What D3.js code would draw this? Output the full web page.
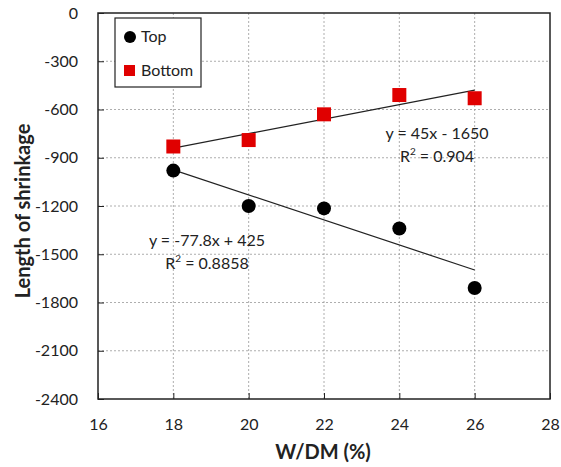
<!doctype html>
<html>
<head>
<meta charset="utf-8">
<script src="https://d3js.org/d3.v7.min.js"></script>
<style>
  body { margin:0; background:#fff; }
  text { font-family: Lato, "Open Sans", sans-serif; fill:#222; }
</style>
</head>
<body>
<svg id="chart" width="561" height="467"></svg>
<script>
// data
var wdm = [18, 20, 22, 24, 26];
var topVals = [-980, -1200, -1215, -1340, -1710];
var bottomVals = [-830, -790, -630, -510, -530];
var xTicks = [16, 18, 20, 22, 24, 26, 28];
var yTicks = [0, -300, -600, -900, -1200, -1500, -1800, -2100, -2400];
// trendlines as printed on the chart
var topFit = {a: -77.8, b: 425, eq: "y = -77.8x + 425", r2: "0.8858"};
var bottomFit = {a: 45, b: -1650, eq: "y = 45x - 1650", r2: "0.904"};

var svg = d3.select("#chart");
var L = 98, R = 550, T = 13, B = 399;

var x = d3.scaleLinear().domain([16, 28]).range([L, R]);
var y = d3.scaleLinear().domain([-2400, 0]).range([B, T]);

// grid
svg.append("g").selectAll("line.gx")
  .data(xTicks.slice(1, -1)).enter().append("line")
  .attr("x1", d => x(d)).attr("x2", d => x(d))
  .attr("y1", T).attr("y2", B)
  .attr("stroke", "#999").attr("stroke-width", 0.8).attr("stroke-dasharray", "2,2");
svg.append("g").selectAll("line.gy")
  .data(yTicks.slice(1, -1)).enter().append("line")
  .attr("x1", L).attr("x2", R)
  .attr("y1", d => y(d)).attr("y2", d => y(d))
  .attr("stroke", "#999").attr("stroke-width", 0.8).attr("stroke-dasharray", "2,2");

// axes
var fmt = d => String(d);
var xAxis = d3.axisBottom(x).tickValues(xTicks).tickFormat(fmt).tickSize(-6).tickPadding(20);
svg.append("g").attr("transform", "translate(0," + B + ")").call(xAxis)
  .call(g => g.select(".domain").remove())
  .call(g => g.selectAll("line").attr("stroke", "#222"))
  .call(g => g.selectAll("text").attr("font-size", 16).attr("font-family", "Lato, sans-serif").attr("fill", "#222"));
var yAxis = d3.axisLeft(y).tickValues(yTicks).tickFormat(fmt).tickSize(-6).tickPadding(20);
svg.append("g").attr("transform", "translate(" + L + ",0)").call(yAxis)
  .call(g => g.select(".domain").remove())
  .call(g => g.selectAll("line").attr("stroke", "#222"))
  .call(g => g.selectAll("text").attr("font-size", 16).attr("font-family", "Lato, sans-serif").attr("fill", "#222"));

// frame
svg.append("rect").attr("x", L).attr("y", T).attr("width", R - L).attr("height", B - T)
  .attr("fill", "none").attr("stroke", "#222").attr("stroke-width", 1.5);

// trendlines
function fitLine(f) {
  return d3.line().x(d => x(d)).y(d => y(f.a * d + f.b))([wdm[0], wdm[wdm.length - 1]]);
}
svg.append("path").attr("d", fitLine(topFit)).attr("fill", "none").attr("stroke", "#222").attr("stroke-width", 1.2);
svg.append("path").attr("d", fitLine(bottomFit)).attr("fill", "none").attr("stroke", "#222").attr("stroke-width", 1.2);

// points
svg.selectAll("circle.top").data(wdm).enter().append("circle")
  .attr("class", "top")
  .attr("cx", d => x(d)).attr("cy", (d, i) => y(topVals[i]))
  .attr("r", 7).attr("fill", "#000");
svg.selectAll("rect.bottom").data(wdm).enter().append("rect")
  .attr("class", "bottom")
  .attr("x", d => x(d) - 7).attr("y", (d, i) => y(bottomVals[i]) - 7)
  .attr("width", 14).attr("height", 14).attr("fill", "#e00000");

// equation labels
function eqLabel(f, cx, by) {
  svg.append("text").attr("x", cx).attr("y", by).attr("text-anchor", "middle")
    .attr("font-size", 16).text(f.eq);
  var t = svg.append("text").attr("x", cx).attr("y", by + 23).attr("text-anchor", "middle")
    .attr("font-size", 16);
  t.append("tspan").text("R");
  t.append("tspan").attr("font-size", 10).attr("dy", -7).text("2");
  t.append("tspan").attr("dy", 7).text(" = " + f.r2);
}
eqLabel(bottomFit, 437, 139);
eqLabel(topFit, 207, 246);

// legend
var lg = svg.append("g");
lg.append("rect").attr("x", 115).attr("y", 18).attr("width", 86).attr("height", 69)
  .attr("fill", "#fff").attr("stroke", "#222").attr("stroke-width", 1.2);
lg.append("circle").attr("cx", 130).attr("cy", 37).attr("r", 6).attr("fill", "#000");
lg.append("text").attr("x", 141).attr("y", 42).attr("font-size", 16).text("Top");
lg.append("rect").attr("x", 124).attr("y", 65).attr("width", 11).attr("height", 11).attr("fill", "#e00000");
lg.append("text").attr("x", 141).attr("y", 76).attr("font-size", 16).text("Bottom");

// axis titles
svg.append("text").attr("x", 323).attr("y", 459).attr("text-anchor", "middle")
  .attr("font-size", 20).attr("font-weight", "bold").text("W/DM (%)");
svg.append("text").attr("transform", "translate(30,211) rotate(-90)")
  .attr("text-anchor", "middle").attr("font-size", 20).attr("font-weight", "bold")
  .text("Length of shrinkage");
</script>
</body>
</html>
